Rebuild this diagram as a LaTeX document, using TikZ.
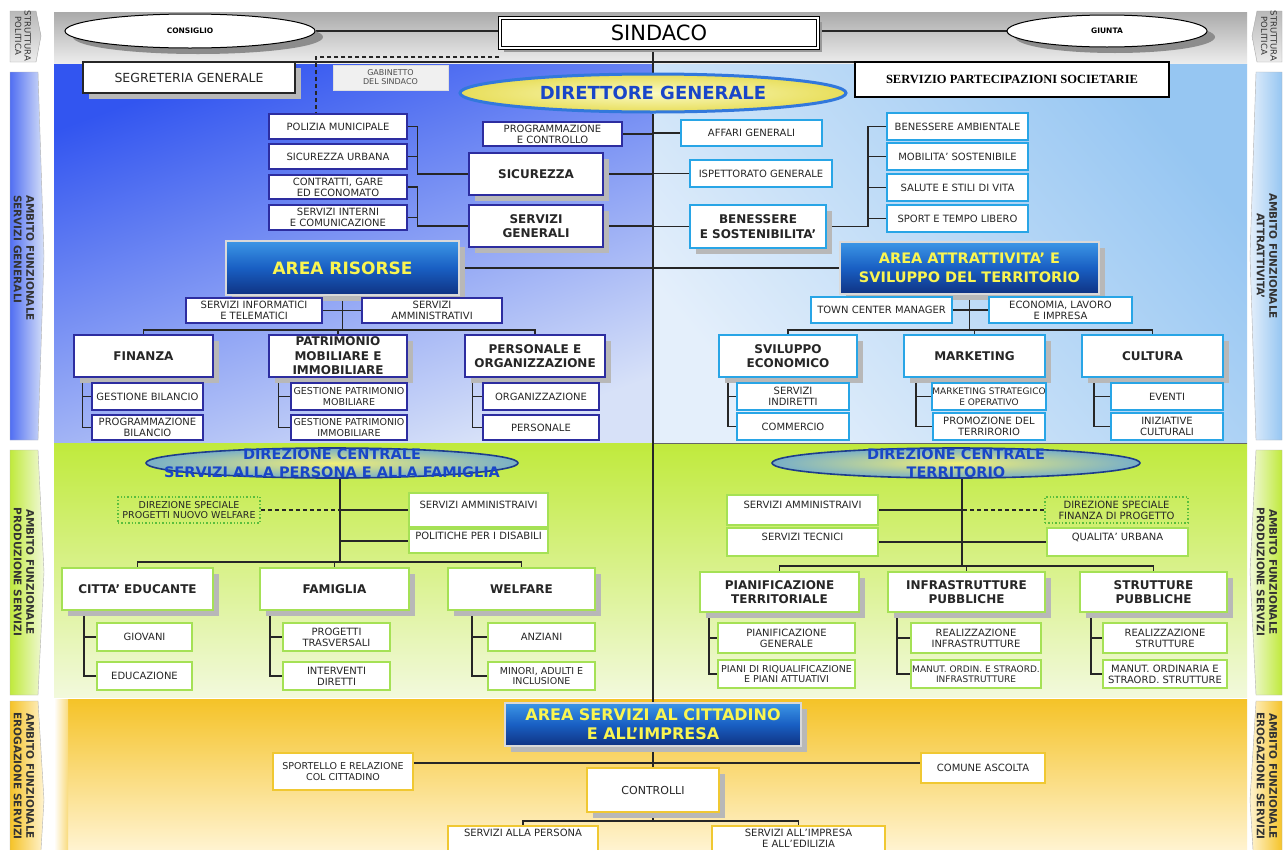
\documentclass[tikz,border=0pt]{standalone}
\usepackage{fontspec}
\setmainfont{DejaVu Sans}
\newfontfamily\tnr{Liberation Serif}
\usetikzlibrary{shapes.geometric,shadows,calc}
\pgfdeclarelayer{back}\pgfdeclarelayer{lines}\pgfsetlayers{back,lines,main}
\definecolor{navyb}{RGB}{45,45,160}
\definecolor{skyb}{RGB}{40,165,230}
\definecolor{grnb}{RGB}{165,225,85}
\definecolor{ylwb}{RGB}{240,200,50}
\definecolor{dotg}{RGB}{90,190,60}
\definecolor{bl1}{RGB}{50,85,240}
\definecolor{bl2}{RGB}{215,225,248}
\definecolor{br1}{RGB}{150,198,242}
\definecolor{br2}{RGB}{228,239,251}
\definecolor{gr1}{RGB}{192,234,60}
\definecolor{gr2}{RGB}{242,249,220}
\definecolor{yl1}{RGB}{245,195,40}
\definecolor{yl2}{RGB}{255,243,208}
\definecolor{gy1}{RGB}{170,170,170}
\definecolor{gy2}{RGB}{238,238,238}
\definecolor{btop}{RGB}{60,150,230}
\definecolor{bmid}{RGB}{25,95,195}
\definecolor{bbot}{RGB}{15,50,130}
\definecolor{ytxt}{RGB}{250,245,80}
\definecolor{dgb}{RGB}{50,120,220}
\definecolor{dgin}{RGB}{250,250,195}
\definecolor{dgout}{RGB}{232,222,90}
\definecolor{dtxt}{RGB}{25,70,200}
\definecolor{dcin}{RGB}{240,238,120}
\definecolor{dcout}{RGB}{120,175,200}
\definecolor{dcb}{RGB}{30,60,140}
\newcommand\obox[7]{\node[#2,minimum width={(#5)-(#3)},minimum height={(#6)-(#4)}] (#1) at ({((#3)+(#5))/2},{((#4)+(#6))/2}) {#7};}
\begin{document}
\begin{tikzpicture}[x=1pt,y=-1pt,
 ln/.style={line width=1.1pt,draw=black!85},
 dsh/.style={ln,dash pattern=on 4pt off 3pt},
 sb/.style={draw,fill=white,inner sep=0pt,align=center,font=\fontsize{10}{11}\selectfont,text=black!85,line width=1.4pt},
 lbs/.style={sb,draw=navyb},
 rbs/.style={sb,draw=skyb,line width=2pt},
 gbs/.style={sb,draw=grnb,line width=2pt},
 ybs/.style={sb,draw=ylwb,line width=2pt},
 hdr/.style={font=\bfseries\fontsize{12}{14.5}\selectfont},
 sm/.style={font=\fontsize{9}{10.5}\selectfont},
 smm/.style={font=\fontsize{9.5}{10.5}\selectfont},
 shd/.style={drop shadow={shadow xshift=6pt,shadow yshift=-6pt,fill=black!28,opacity=1}},
 dots/.style={sb,fill=none,draw=dotg,dotted,line width=1.6pt},
 big/.style={draw=gray!30,line width=1.5pt,inner sep=0pt,align=center,top color=btop,bottom color=bbot,middle color=bmid,text=ytxt,font=\bfseries\fontsize{17}{20}\selectfont,shd},
 ell/.style={ellipse,draw,fill=white,line width=1pt,inner sep=0pt,font=\bfseries\fontsize{7.5}{8.5}\selectfont,drop shadow={shadow xshift=8pt,shadow yshift=-6pt,fill=black!45,opacity=1}},
 dce/.style={ellipse,draw=dcb,line width=1.6pt,inner color=dcin,outer color=dcout,inner sep=0pt},
 dct/.style={align=center,text=dtxt,font=\bfseries\fontsize{14.5}{18}\selectfont,inner sep=0pt},
 side/.style={rotate=-90,align=center,inner sep=0pt,text=black!80,font=\bfseries\fontsize{10.5}{12.5}\selectfont},
]
\useasboundingbox (0,0) rectangle (1287,849);
\clip (0,0) rectangle (1287,849);
\begin{pgfonlayer}{back}
\fill[white] (0,0) rectangle (1287,849);
\shade[top color=gy1,bottom color=gy2] (54,12) rectangle (1247,64);
\shade[top color=bl1,bottom color=bl2,shading angle=20] (54,64) rectangle (653,443);
\shade[top color=br1,bottom color=br2,shading angle=-50] (653,64) rectangle (1247,443);
\shade[top color=gr1,bottom color=gr2] (54,443) rectangle (1247,697);
\shade[top color=yl1,bottom color=yl2] (54,699) rectangle (1247,849);
\shade[left color=white,right color=yl1!60] (54,699) rectangle (68,849);
\draw[black!60,line width=1pt] (653,443) -- (1247,443);
% side strips
\shade[top color=gray!55,bottom color=gray!15,draw=gray!70] (10,11) -- (36,11) -- (41,36) -- (36,62) -- (10,62) -- cycle;
\shade[top color=gray!55,bottom color=gray!15,draw=gray!70] (1282,11) -- (1257,11) -- (1252,36) -- (1257,62) -- (1282,62) -- cycle;
\shade[left color=bl1!85,right color=bl2,draw=gray!60] (10,72) -- (38,72) -- (44,256) -- (38,440) -- (10,440) -- cycle;
\shade[left color=br2,right color=br1,draw=gray!60] (1282,72) -- (1256,72) -- (1250,256) -- (1256,440) -- (1282,440) -- cycle;
\shade[left color=gr1,right color=gr2,draw=gray!60] (10,450) -- (38,450) -- (44,572) -- (38,695) -- (10,695) -- cycle;
\shade[left color=gr2,right color=gr1,draw=gray!60] (1282,450) -- (1256,450) -- (1250,572) -- (1256,695) -- (1282,695) -- cycle;
\shade[left color=yl1,right color=yl2,draw=gray!60] (10,701) -- (38,701) -- (44,800) -- (38,900) -- (10,900) -- cycle;
\shade[left color=yl2,right color=yl1,draw=gray!60] (1282,701) -- (1256,701) -- (1250,800) -- (1256,900) -- (1282,900) -- cycle;
\end{pgfonlayer}
% side texts
\node[side,font=\fontsize{8.5}{9.5}\selectfont] (lt0) at (23,36) {STRUTTURA\\POLITICA};
\node[side,font=\fontsize{8.5}{9.5}\selectfont] (rt0) at (1269,36) {STRUTTURA\\POLITICA};
\node[side,align=left] (lt1) at (24,258) {AMBITO FUNZIONALE\\SERVIZI GENERALI};
\node[side] (rt1) at (1267,256) {AMBITO FUNZIONALE\\ATTRATTIVITA'};
\node[side] (lt2) at (24,572) {AMBITO FUNZIONALE\\PRODUZIONE SERVIZI};
\node[side] (rt2) at (1267,572) {AMBITO FUNZIONALE\\PRODUZIONE SERVIZI};
\node[side] (lt3) at (24,776) {AMBITO FUNZIONALE\\EROGAZIONE SERVIZI};
\node[side] (rt3) at (1267,776) {AMBITO FUNZIONALE\\EROGAZIONE SERVIZI};
% top
\node[ell,minimum width=250,minimum height=34] (cons) at (190,31) {CONSIGLIO};
\obox{sind}{sb,double=white,double distance=1.6pt,line width=1.2pt,draw=black,text=black,font=\fontsize{21}{24}\selectfont,drop shadow={shadow xshift=4pt,shadow yshift=-4pt,fill=black!40,opacity=1}}{500}{18}{818}{48}{SINDACO}
\node[ell,minimum width=200,minimum height=32] (giu) at (1107,31) {GIUNTA};
\obox{seg}{sb,draw=black!85,line width=1.2pt,shd,font=\fontsize{12.5}{14}\selectfont}{83}{62}{295}{93}{SEGRETERIA GENERALE}
\obox{gab}{sb,fill=gray!12,draw=gray!25,line width=0.6pt,text=black!70,font=\fontsize{8}{9}\selectfont}{333}{65}{448}{90}{GABINETTO\\DEL SINDACO}
\obox{spa}{sb,draw=black,line width=1.2pt,text=black,font=\tnr\bfseries\fontsize{12.5}{14}\selectfont}{855}{62}{1169}{97}{SERVIZIO PARTECIPAZIONI SOCIETARIE}
\node[ellipse,draw=dgb,line width=3pt,inner color=dgin,outer color=dgout,minimum width=386,minimum height=38,inner sep=0pt,text=dtxt,font=\bfseries\fontsize{18}{20}\selectfont] (dg) at (653,93) {DIRETTORE GENERALE};
% left blue
\obox{pm}{lbs}{269}{114}{407}{139}{POLIZIA MUNICIPALE}
\obox{su}{lbs}{269}{144}{407}{169}{SICUREZZA URBANA}
\obox{cg}{lbs}{269}{175}{407}{199}{CONTRATTI, GARE\\ED ECONOMATO}
\obox{si}{lbs}{269}{205}{407}{230}{SERVIZI INTERNI\\E COMUNICAZIONE}
\obox{pc}{lbs}{483}{122}{622}{146}{PROGRAMMAZIONE\\E CONTROLLO}
\obox{sic}{lbs,hdr,shd}{469}{153}{603}{195}{SICUREZZA}
\obox{sg}{lbs,hdr,shd}{469}{205}{603}{247}{SERVIZI\\GENERALI}
\obox{ar}{big}{226}{241}{459}{295}{AREA RISORSE}
\obox{sit}{lbs}{186}{298}{322}{323}{SERVIZI INFORMATICI\\E TELEMATICI}
\obox{sam}{lbs}{362}{298}{502}{323}{SERVIZI\\AMMINISTRATIVI}
\obox{fin}{lbs,hdr,shd}{74}{335}{213}{377}{FINANZA}
\obox{pat}{lbs,hdr,shd}{269}{335}{407}{377}{PATRIMONIO\\MOBILIARE E\\IMMOBILIARE}
\obox{per}{lbs,hdr,shd}{465}{335}{605}{377}{PERSONALE E\\ORGANIZZAZIONE}
\obox{gbil}{lbs}{92}{383}{203}{410}{GESTIONE BILANCIO}
\obox{pbil}{lbs}{92}{415}{203}{440}{PROGRAMMAZIONE\\BILANCIO}
\obox{gpm}{lbs,smm}{291}{383}{407}{410}{GESTIONE PATRIMONIO\\MOBILIARE}
\obox{gpi}{lbs,smm}{291}{415}{407}{440}{GESTIONE PATRIMONIO\\IMMOBILIARE}
\obox{org}{lbs}{483}{383}{599}{410}{ORGANIZZAZIONE}
\obox{pers}{lbs}{483}{415}{599}{440}{PERSONALE}
% right blue
\obox{ag}{rbs}{681}{120}{822}{146}{AFFARI GENERALI}
\obox{isp}{rbs}{690}{160}{832}{187}{ISPETTORATO GENERALE}
\obox{bes}{rbs,hdr,shd}{690}{205}{826}{248}{BENESSERE\\E SOSTENIBILITA'}
\obox{ba}{rbs}{887}{113}{1028}{140}{BENESSERE AMBIENTALE}
\obox{mob}{rbs}{887}{143}{1028}{170}{MOBILITA' SOSTENIBILE}
\obox{sal}{rbs}{887}{174}{1028}{201}{SALUTE E STILI DI VITA}
\obox{spt}{rbs}{887}{205}{1028}{232}{SPORT E TEMPO LIBERO}
\obox{aat}{big,font=\bfseries\fontsize{14.5}{19}\selectfont}{840}{242}{1099}{294}{AREA ATTRATTIVITA' E\\SVILUPPO DEL TERRITORIO}
\obox{tcm}{rbs}{811}{297}{952}{323}{TOWN CENTER MANAGER}
\obox{eco}{rbs}{989}{297}{1132}{323}{ECONOMIA, LAVORO\\E IMPRESA}
\obox{sve}{rbs,hdr,shd}{719}{335}{857}{377}{SVILUPPO\\ECONOMICO}
\obox{mkt}{rbs,hdr,shd}{904}{335}{1045}{377}{MARKETING}
\obox{cul}{rbs,hdr,shd}{1082}{335}{1223}{377}{CULTURA}
\obox{sid}{rbs}{737}{383}{849}{410}{SERVIZI\\INDIRETTI}
\obox{com}{rbs}{737}{413}{849}{440}{COMMERCIO}
\obox{mst}{rbs,sm}{933}{383}{1045}{410}{MARKETING STRATEGICO\\E OPERATIVO}
\obox{prt}{rbs}{933}{413}{1045}{440}{PROMOZIONE DEL\\TERRIRORIO}
\obox{evt}{rbs}{1111}{383}{1223}{410}{EVENTI}
\obox{ini}{rbs}{1111}{413}{1223}{440}{INIZIATIVE\\CULTURALI}
% green left
\node[dce,minimum width=372,minimum height=30] (dcl) at (332,463) {};
\node[dct] (dclt) at (332,463) {DIREZIONE CENTRALE\\SERVIZI ALLA PERSONA E ALLA FAMIGLIA};
\obox{dsp}{dots,smm}{118}{497}{260}{523}{DIREZIONE SPECIALE\\PROGETTI NUOVO WELFARE}
\obox{sa1}{gbs}{409}{493}{548}{527}{SERVIZI AMMINISTRAIVI\\ \mbox{}}
\obox{pol}{gbs}{409}{529}{548}{553}{POLITICHE PER I DISABILI\\ \mbox{}}
\obox{ce}{gbs,hdr,shd}{62}{568}{213}{610}{CITTA' EDUCANTE}
\obox{fam}{gbs,hdr,shd}{260}{568}{409}{610}{FAMIGLIA}
\obox{wel}{gbs,hdr,shd}{448}{568}{595}{610}{WELFARE}
\obox{gio}{gbs}{97}{623}{192}{651}{GIOVANI}
\obox{edu}{gbs}{97}{662}{192}{690}{EDUCAZIONE}
\obox{pro}{gbs}{283}{623}{390}{651}{PROGETTI\\TRASVERSALI}
\obox{itv}{gbs}{283}{662}{390}{690}{INTERVENTI\\DIRETTI}
\obox{anz}{gbs}{488}{623}{595}{651}{ANZIANI}
\obox{mai}{gbs,smm}{488}{662}{595}{690}{MINORI, ADULTI E\\INCLUSIONE}
% green right
\node[dce,minimum width=368,minimum height=30] (dcr) at (956,463) {};
\node[dct] (dcrt) at (956,463) {DIREZIONE CENTRALE\\TERRITORIO};
\obox{sa2}{gbs}{727}{495}{878}{525}{SERVIZI AMMINISTRAIVI\\ \mbox{}}
\obox{dsf}{dots}{1045}{497}{1188}{523}{DIREZIONE SPECIALE\\FINANZA DI PROGETTO}
\obox{stc}{gbs}{727}{528}{878}{556}{SERVIZI TECNICI\\ \mbox{}}
\obox{qu}{gbs}{1047}{528}{1188}{556}{QUALITA' URBANA\\ \mbox{}}
\obox{ptr}{gbs,hdr,shd}{700}{572}{859}{612}{PIANIFICAZIONE\\TERRITORIALE}
\obox{ipu}{gbs,hdr,shd}{888}{572}{1045}{612}{INFRASTRUTTURE\\PUBBLICHE}
\obox{spu}{gbs,hdr,shd}{1080}{572}{1227}{612}{STRUTTURE\\PUBBLICHE}
\obox{pg}{gbs}{718}{623}{855}{653}{PIANIFICAZIONE\\GENERALE}
\obox{pia}{gbs,smm}{718}{660}{855}{688}{PIANI DI RIQUALIFICAZIONE\\E PIANI ATTUATIVI}
\obox{rin}{gbs}{911}{623}{1041}{653}{REALIZZAZIONE\\INFRASTRUTTURE}
\obox{mni}{gbs,sm}{911}{660}{1041}{688}{MANUT. ORDIN. E STRAORD.\\INFRASTRUTTURE}
\obox{rst}{gbs}{1103}{623}{1227}{653}{REALIZZAZIONE\\STRUTTURE}
\obox{mns}{gbs}{1103}{660}{1227}{688}{MANUT. ORDINARIA E\\STRAORD. STRUTTURE}
% yellow
\obox{asc}{big,font=\bfseries\fontsize{16}{19}\selectfont}{505}{703}{801}{746}{AREA SERVIZI AL CITTADINO\\E ALL'IMPRESA}
\obox{spo}{ybs,smm}{273}{753}{413}{790}{SPORTELLO E RELAZIONE\\COL CITTADINO}
\obox{ctl}{ybs,shd,font=\fontsize{11}{13}\selectfont}{587}{768}{719}{812}{CONTROLLI}
\obox{cas}{ybs}{921}{753}{1045}{783}{COMUNE ASCOLTA}
\obox{sap}{ybs}{448}{826}{598}{862}{SERVIZI ALLA PERSONA\\ \mbox{}\\ \mbox{}}
\obox{sai}{ybs}{712}{826}{885}{862}{SERVIZI ALL'IMPRESA\\E ALL'EDILIZIA\\ \mbox{}}
% connectors
\coordinate (dA) at (316,57);
\coordinate (hT) at (196,62);
\coordinate (tk) at (653,62);
\coordinate (k1) at ($(pm.east)+(10,0)$);
\coordinate (k2) at ($(cg.east)+(10,0)$);
\coordinate (k3) at ($(ba.west)+(-18,0)$);
\coordinate (hA) at (342.5,330);
\coordinate (hB) at (969.5,330);
\coordinate (gL) at (340,562);
\coordinate (gR) at (962,566);
\coordinate (yH) at (653,763);
\coordinate (yC) at (653,821);
\begin{pgfonlayer}{lines}
\draw[ln,line width=1.8pt] (cons.east) -- (cons.east -| sind.west);
\draw[ln,line width=1.8pt] (giu.west) -- (giu.west -| sind.east);
\draw[dsh] (dA -| sind.west) -- (dA) -- (dA |- pm.north);
\draw[ln] (hT) -- (hT -| spa.west);
\draw[ln] (tk |- sind.south) -- (dg.north);
\draw[ln] (dg.south) -- (asc.north);
\draw[ln] (pc.east) -- (pc.east -| dg.south);
\draw[ln] (sic.east) -- (sic.east -| dg.south);
\draw[ln] (sg.east) -- (sg.east -| dg.south);
\draw[ln] (ar.east) -- (aat.west);
\draw[ln] (ag.west) -- (ag.west -| dg.south);
\draw[ln] (isp.west) -- (isp.west -| dg.south);
\draw[ln] (bes.west) -- (bes.west -| dg.south);
\draw[ln] (pm.east) -- (k1) -- (k1 |- sic.west) -- (sic.west);
\draw[ln] (su.east) -- (su.east -| k1);
\draw[ln] (cg.east) -- (k2) -- (k2 |- sg.west) -- (sg.west);
\draw[ln] (si.east) -- (si.east -| k2);
\draw[ln] (ba.west) -- (k3) -- (k3 |- bes.east) -- (bes.east);
\draw[ln] (mob.west) -- (mob.west -| k3);
\draw[ln] (sal.west) -- (sal.west -| k3);
\draw[ln] (spt.west) -- (spt.west -| k3);
\draw[ln] (ar.south) -- (hA);
\draw[ln] (sit.east) -- (sam.west);
\draw[ln] (fin.north) |- (hA) -| (per.north);
\draw[ln] (pat.north) -- (pat.north |- hA);
\draw[ln] ($(fin.south west)+(9,0)$) |- (gbil.west);
\draw[ln] ($(fin.south west)+(9,0)$) |- (pbil.west);
\draw[ln] ($(pat.south west)+(10,0)$) |- (gpm.west);
\draw[ln] ($(pat.south west)+(10,0)$) |- (gpi.west);
\draw[ln] ($(per.south west)+(8,0)$) |- (org.west);
\draw[ln] ($(per.south west)+(8,0)$) |- (pers.west);
\draw[ln] (aat.south) -- (hB);
\draw[ln] (tcm.east) -- (eco.west);
\draw[ln] (sve.north) |- (hB) -| (cul.north);
\draw[ln] (mkt.north) -- (mkt.north |- hB);
\draw[ln] ($(sve.south west)+(10,0)$) |- (sid.west);
\draw[ln] ($(sve.south west)+(10,0)$) |- (com.west);
\draw[ln] ($(mkt.south west)+(13,0)$) |- (mst.west);
\draw[ln] ($(mkt.south west)+(13,0)$) |- (prt.west);
\draw[ln] ($(cul.south west)+(13,0)$) |- (evt.west);
\draw[ln] ($(cul.south west)+(13,0)$) |- (ini.west);
\draw[ln] (gL |- dcl.south) -- (gL);
\draw[ln] (sa1.west) -- (sa1.west -| gL);
\draw[dsh] (dsp.east) -- (dsp.east -| gL);
\draw[ln] (pol.west) -- (pol.west -| gL);
\draw[ln] (ce.north) |- (gL) -| (wel.north);
\draw[ln] (fam.north) -- (fam.north |- gL);
\draw[ln] ($(ce.south west)+(23,0)$) |- (gio.west);
\draw[ln] ($(ce.south west)+(23,0)$) |- (edu.west);
\draw[ln] ($(fam.south west)+(11,0)$) |- (pro.west);
\draw[ln] ($(fam.south west)+(11,0)$) |- (itv.west);
\draw[ln] ($(wel.south west)+(25,0)$) |- (anz.west);
\draw[ln] ($(wel.south west)+(25,0)$) |- (mai.west);
\draw[ln] (gR |- dcr.south) -- (gR);
\draw[ln] (sa2.east) -- (sa2.east -| gR);
\draw[dsh] (dsf.west) -- (dsf.west -| gR);
\draw[ln] (stc.east) -- (qu.west);
\draw[ln] (ptr.north) |- (gR) -| (spu.north);
\draw[ln] (ipu.north) -- (ipu.north |- gR);
\draw[ln] ($(ptr.south west)+(10,0)$) |- (pg.west);
\draw[ln] ($(ptr.south west)+(10,0)$) |- (pia.west);
\draw[ln] ($(ipu.south west)+(10,0)$) |- (rin.west);
\draw[ln] ($(ipu.south west)+(10,0)$) |- (mni.west);
\draw[ln] ($(spu.south west)+(12,0)$) |- (rst.west);
\draw[ln] ($(spu.south west)+(12,0)$) |- (mns.west);
\draw[ln] (asc.south) -- (ctl.north);
\draw[ln] (spo.east |- yH) -- (cas.west |- yH);
\draw[ln] (ctl.south) -- (yC);
\draw[ln] (sap.north) |- (yC) -| (sai.north);
\end{pgfonlayer}
\end{tikzpicture}
\end{document}
